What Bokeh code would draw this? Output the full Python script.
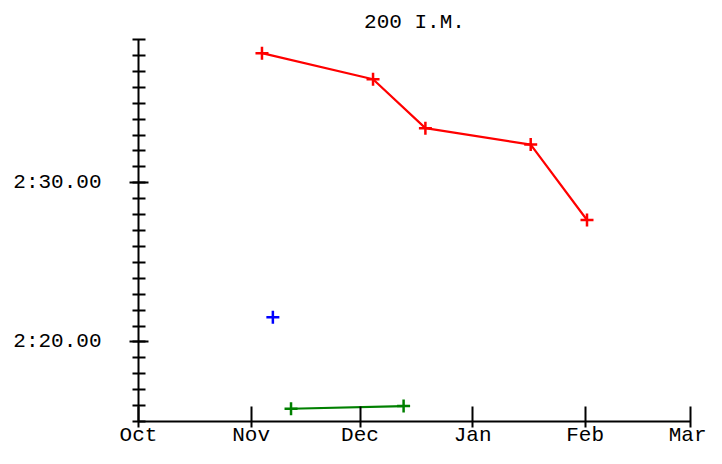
import pandas as pd
from bokeh.plotting import figure
from bokeh.models import FixedTicker, DatetimeTickFormatter, Range1d
from bokeh.embed import file_html
from bokeh.resources import INLINE

# ---- data -------------------------------------------------------------
title_text = "200 I.M."
month_ticks = ["2023-10-01 00:00", "2023-11-01 00:00", "2023-12-01 00:00",
               "2024-01-01 00:00", "2024-02-01 00:00", "2024-03-01 00:00"]
y_major_ticks = [140, 150]
y_major_labels = ["2:20.00", "2:30.00"]
y_minor_ticks = list(range(135, 160))
y_start, y_end = 135, 159

red_dates = ["2023-11-04 00:00", "2023-12-04 14:00", "2023-12-19 00:00",
             "2024-01-17 00:00", "2024-02-01 12:00"]
red_times = [158.14, 156.50, 153.43, 152.40, 147.66]

blue_dates = ["2023-11-07 00:00"]
blue_times = [141.55]

green_dates = ["2023-11-12 00:00", "2023-12-13 00:00"]
green_times = [135.80, 135.97]

# ---- figure -----------------------------------------------------------
FONT = "Liberation Mono"
FSIZE = "21px"


def to_dt(lst):
    return pd.to_datetime(lst, format="%Y-%m-%d %H:%M")


xt = to_dt(month_ticks)
p = figure(x_axis_type="datetime", output_backend="svg", toolbar_location=None,
           frame_width=552, frame_height=382,
           min_border_left=138, min_border_right=16,
           min_border_top=39, min_border_bottom=0,
           x_range=Range1d(xt[0], xt[-1]),
           y_range=Range1d(y_start, y_end),
           background_fill_color="white", border_fill_color="white")
p.outline_line_color = None
p.xgrid.visible = False
p.ygrid.visible = False

p.title.text = title_text
p.title.align = "center"
p.title.text_font = FONT
p.title.text_font_size = FSIZE
p.title.text_font_style = "normal"
p.title.text_color = "#000000"
p.title.standoff = 11
p.title.offset = 0

# x axis
xa = p.xaxis[0]
xa.ticker = FixedTicker(ticks=[t.value / 1e6 for t in xt], minor_ticks=[])
xa.formatter = DatetimeTickFormatter(months="%b", days="%b", hours="%b",
                                     years="%b", minutes="%b")
xa.axis_line_width = 2
xa.axis_line_color = "#000000"
xa.major_tick_line_width = 2
xa.major_tick_line_color = "#000000"
xa.major_tick_in = 15
xa.major_tick_out = 6
xa.minor_tick_line_color = None
xa.major_label_standoff = -4
xa.major_label_text_font = FONT
xa.major_label_text_font_size = FSIZE
xa.major_label_text_color = "#000000"

# y axis
ya = p.yaxis[0]
ya.ticker = FixedTicker(ticks=y_major_ticks, minor_ticks=y_minor_ticks)
ya.major_label_overrides = {t: l for t, l in zip(y_major_ticks, y_major_labels)}
ya.axis_line_width = 2
ya.axis_line_color = "#000000"
ya.major_tick_line_width = 2
ya.major_tick_line_color = "#000000"
ya.major_tick_in = 10
ya.major_tick_out = 9
ya.minor_tick_line_width = 2
ya.minor_tick_line_color = "#000000"
ya.minor_tick_in = 7
ya.minor_tick_out = 6
ya.major_label_standoff = 28
ya.major_label_text_font = FONT
ya.major_label_text_font_size = FSIZE
ya.major_label_text_color = "#000000"

# series
for dates, times, col in [(red_dates, red_times, "#ff0000"),
                          (blue_dates, blue_times, "#0000ff"),
                          (green_dates, green_times, "#008000")]:
    xs = to_dt(dates)
    if len(dates) > 1:
        p.line(xs, times, line_color=col, line_width=2.2)
    p.scatter(xs, times, marker="cross", size=13, line_width=2.5, line_color=col)

open("out.html", "w").write(file_html(p, INLINE))
